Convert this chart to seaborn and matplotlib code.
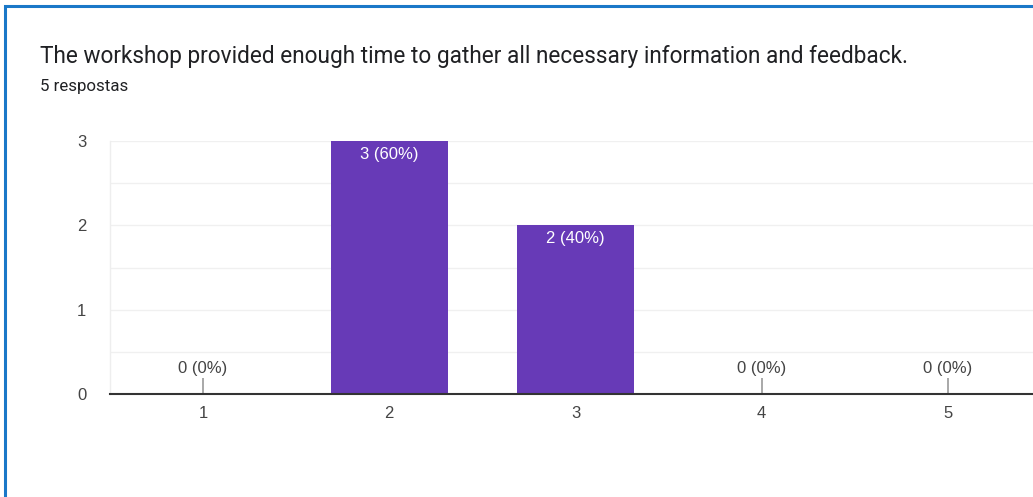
import matplotlib
matplotlib.use("Agg")
import matplotlib.pyplot as plt
from matplotlib.patches import Rectangle
import seaborn as sns
import pandas as pd

# Survey results
ratings = ["1", "2", "3", "4", "5"]
counts = [0, 3, 2, 0, 0]
total_responses = 5
title_text = "The workshop provided enough time to gather all necessary information and feedback."
subtitle_text = "5 respostas"
y_ticks = [0, 1, 2, 3]

sns.set_theme(style="white")
plt.rcParams["font.family"] = ["Roboto", "DejaVu Sans"]
chart_font = ["Liberation Sans", "DejaVu Sans"]

W, H = 1033, 497
fig = plt.figure(figsize=(W / 100, H / 100), dpi=100)
fig.patch.set_facecolor("white")

# Card border (left and top edges visible)
fig.add_artist(Rectangle((5 / W, -0.1), 1.2, 1.1 - 6 / H, transform=fig.transFigure,
                         fill=False, edgecolor="#1a78c8", linewidth=2.2))

fig.text(40 / W, 1 - 57 / H, title_text, fontsize=16.3, color="#202124",
         ha="left", va="center")
fig.text(40 / W, 1 - 87 / H, subtitle_text, fontsize=12.2, color="#202124",
         ha="left", va="center")

left, right, top, bottom = 110, 1041, 141, 394
ax = fig.add_axes([left / W, 1 - bottom / H, (right - left) / W, (bottom - top) / H])

df = pd.DataFrame({"rating": ratings, "count": counts})
sns.barplot(data=df, x="rating", y="count", order=ratings, color="#673ab7",
            saturation=1, width=0.63, ax=ax, linewidth=0)

ax.set_xlim(-0.5, 4.5)
ax.set_ylim(0, 3)
ax.set_yticks(y_ticks)
ax.set_yticks([0.5, 1.5, 2.5], minor=True)
ax.grid(True, axis="y", which="both", color="#f0f0f0", linewidth=1)
ax.set_axisbelow(True)
ax.set_xlabel("")
ax.set_ylabel("")

for s in ["top", "right"]:
    ax.spines[s].set_visible(False)
ax.spines["left"].set_color("#eeeeee")
ax.spines["left"].set_linewidth(1)
ax.spines["bottom"].set_color("#333333")
ax.spines["bottom"].set_linewidth(1.5)
ax.spines["bottom"].set_zorder(5)

ax.tick_params(axis="both", which="both", length=0, labelsize=12, labelcolor="#444444")
ax.tick_params(axis="y", pad=17)
ax.tick_params(axis="x", pad=9)
for lab in ax.get_xticklabels() + ax.get_yticklabels():
    lab.set_family(chart_font)

px_per_unit = (bottom - top) / 3.0
for i, c in enumerate(counts):
    label = f"{c} ({round(100 * c / total_responses)}%)"
    if c > 0:
        ax.text(i, c - 13 / px_per_unit, label, ha="center", va="center",
                color="white", fontsize=12, family=chart_font)
    else:
        ax.plot([i, i], [0, 16 / px_per_unit], color="#999999", linewidth=1.2,
                solid_capstyle="butt", zorder=4)
        ax.text(i, 26 / px_per_unit, label, ha="center", va="center",
                color="#444444", fontsize=12, family=chart_font)

fig.savefig("out.png", dpi=100, facecolor="white")
